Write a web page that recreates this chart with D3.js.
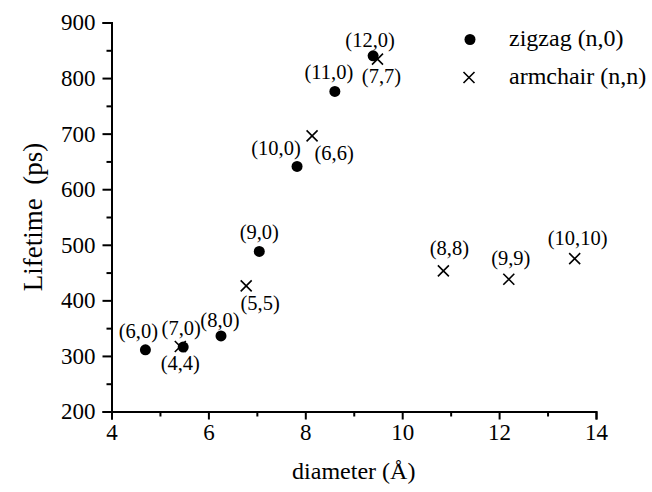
<!DOCTYPE html>
<html>
<head>
<meta charset="utf-8">
<script src="https://cdn.jsdelivr.net/npm/d3@7"></script>
<style>
  html, body { margin: 0; padding: 0; background: #fff; }
  svg { display: block; }
  text { font-family: "Liberation Serif", "Times New Roman", serif; fill: #000; }
</style>
</head>
<body>
<svg id="chart" width="652" height="492"></svg>
<script>
// Zigzag (n,0) tubes
const zigzagLabels = ["(6,0)", "(7,0)", "(8,0)", "(9,0)", "(10,0)", "(11,0)", "(12,0)"];
const zigzagDiameter = [4.70, 5.48, 6.26, 7.05, 7.83, 8.61, 9.40];
const zigzagLifetime = [311, 316, 336, 488, 641, 776, 840];

// Armchair (n,n) tubes
const armchairLabels = ["(4,4)", "(5,5)", "(6,6)", "(7,7)", "(8,8)", "(9,9)", "(10,10)"];
const armchairDiameter = [5.42, 6.78, 8.14, 9.49, 10.85, 12.20, 13.56];
const armchairLifetime = [317, 426, 696, 834, 453, 438, 475];

// Axis ticks
const xTicks = [4, 6, 8, 10, 12, 14];
const xMinorTicks = [5, 7, 9, 11, 13];
const yTicks = [200, 300, 400, 500, 600, 700, 800, 900];
const yMinorTicks = [250, 350, 450, 550, 650, 750, 850];

// Label placement around each marker (pixel offsets of the text centre/baseline)
const labelOffset = {
  "(6,0)": [-7, -12], "(7,0)": [-2, -12], "(8,0)": [-1, -9], "(9,0)": [0, -12],
  "(10,0)": [-21, -11], "(11,0)": [-6, -12], "(12,0)": [-3, -9],
  "(4,4)": [0, 24], "(5,5)": [14, 24], "(6,6)": [22, 24], "(7,7)": [4, 24],
  "(8,8)": [6, -16], "(9,9)": [2, -14], "(10,10)": [3, -14]
};

const svg = d3.select("#chart");
const plotLeft = 111.5, plotRight = 596, plotTop = 22.5, plotBottom = 411.5;

const x = d3.scaleLinear().domain([4, 14]).range([plotLeft, plotRight]);
const y = d3.scaleLinear().domain([200, 900]).range([plotBottom, plotTop]);

// Axes
const axisFont = "23px";
const xAxis = svg.append("g").attr("transform", `translate(0,${plotBottom})`)
  .call(d3.axisBottom(x).tickValues(xTicks).tickSize(8).tickPadding(4).tickFormat(d3.format("d")));
const xMinor = svg.append("g").attr("transform", `translate(0,${plotBottom})`)
  .call(d3.axisBottom(x).tickValues(xMinorTicks).tickSize(5).tickFormat(""));
const yAxis = svg.append("g").attr("transform", `translate(${plotLeft},0)`)
  .call(d3.axisLeft(y).tickValues(yTicks).tickSize(9).tickPadding(7).tickFormat(d3.format("d")));
const yMinor = svg.append("g").attr("transform", `translate(${plotLeft},0)`)
  .call(d3.axisLeft(y).tickValues(yMinorTicks).tickSize(5).tickFormat(""));

[xAxis, xMinor, yAxis, yMinor].forEach(g => {
  g.select(".domain").attr("stroke", "#000").attr("stroke-width", 2);
  g.selectAll(".tick line").attr("stroke", "#000").attr("stroke-width", 2);
  g.selectAll(".tick text").attr("font-family", "Liberation Serif").attr("font-size", axisFont).attr("fill", "#000");
});
xMinor.select(".domain").remove();
yMinor.select(".domain").remove();

// Axis titles
svg.append("text")
  .attr("x", (plotLeft + plotRight) / 2).attr("y", 479)
  .attr("text-anchor", "middle").attr("font-size", "24px")
  .text("diameter (Å)");

svg.append("text")
  .attr("transform", `translate(42,${(plotTop + plotBottom) / 2}) rotate(-90)`)
  .attr("text-anchor", "middle").attr("font-size", "27px")
  .attr("xml:space", "preserve")
  .text("Lifetime  (ps)");

// Markers
const zigzag = zigzagLabels.map((l, i) => ({ label: l, d: zigzagDiameter[i], t: zigzagLifetime[i] }));
const armchair = armchairLabels.map((l, i) => ({ label: l, d: armchairDiameter[i], t: armchairLifetime[i] }));

const cross = (g, cx, cy, s) => {
  g.append("path")
    .attr("d", `M${cx - s},${cy - s}L${cx + s},${cy + s}M${cx - s},${cy + s}L${cx + s},${cy - s}`)
    .attr("stroke", "#000").attr("stroke-width", 1.6).attr("fill", "none");
};

const marks = svg.append("g");
armchair.forEach(p => cross(marks, x(p.d), y(p.t), 5.5));
marks.selectAll("circle.zz").data(zigzag).join("circle")
  .attr("class", "zz")
  .attr("cx", d => x(d.d)).attr("cy", d => y(d.t)).attr("r", 5.5)
  .attr("fill", "#000");

// Point labels
const labels = svg.append("g");
zigzag.concat(armchair).forEach(p => {
  const off = labelOffset[p.label];
  labels.append("text")
    .attr("x", x(p.d) + off[0]).attr("y", y(p.t) + off[1])
    .attr("text-anchor", "middle").attr("font-size", "20.5px")
    .text(p.label);
});

// Legend
const legend = svg.append("g");
legend.append("circle").attr("cx", 470).attr("cy", 39.5).attr("r", 5.5).attr("fill", "#000");
cross(legend, 469, 77.5, 5.5);
legend.append("text").attr("x", 509).attr("y", 46).attr("font-size", "24px").text("zigzag (n,0)");
legend.append("text").attr("x", 509).attr("y", 84).attr("font-size", "24px").text("armchair (n,n)");
</script>
</body>
</html>
